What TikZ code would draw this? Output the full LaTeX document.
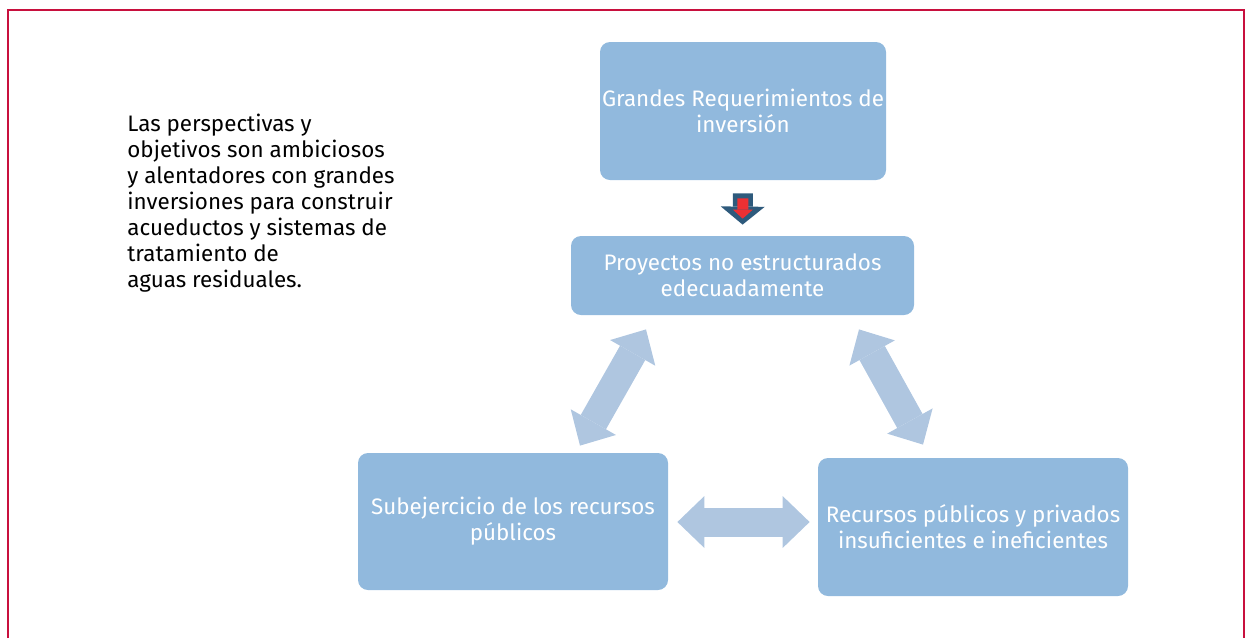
\documentclass[tikz,border=0pt]{standalone}
\usepackage{fontspec}
\setmainfont{Fira Sans}
\usetikzlibrary{arrows.meta}

\definecolor{colMarco}{HTML}{C8103E}
\definecolor{colCaja}{HTML}{91B9DD}
\definecolor{colFlecha}{HTML}{AFC6E0}
\definecolor{colOscuro}{HTML}{2E5A7C}
\definecolor{colRojo}{HTML}{EC3033}

\tikzset{
    caja/.style={fill=colCaja, rounded corners=5pt, text=white, align=center,
        font=\fontsize{11.2}{13}\selectfont, inner sep=0pt},
    doble/.style={colFlecha, line width=14.5pt,
        {Triangle[length=13.5pt,width=26pt,line width=0pt]}-{Triangle[length=13.5pt,width=26pt,line width=0pt]}},
}

\begin{document}
\begin{tikzpicture}[x=0.5pt,y=-0.5pt]
    \useasboundingbox (0,0) rectangle (1246,638);
    \draw[colMarco,line width=1.25pt] (8,638) -- (8,10) -- (1244,10) -- (1244,638);

    \node[anchor=north west,inner sep=0pt,align=left,font=\fontsize{11.2}{13}\selectfont]
        (perspectivas) at (127,114) {Las perspectivas y\\objetivos son ambiciosos\\y alentadores con grandes\\inversiones para construir\\acueductos y sistemas de\\tratamiento de\\aguas residuales.};

    \node[caja,minimum width=143pt,minimum height=69pt] (grandes) at (743,111)
        {Grandes Requerimientos de\\inversión};
    \node[caja,minimum width=171.5pt,minimum height=39.5pt] (proy) at (742.5,275.5)
        {Proyectos no estructurados\\edecuadamente};
    \node[caja,minimum width=155pt,minimum height=68.5pt] (sub) at (513,521.5)
        {Subejercicio de los recursos\\públicos};
    \node[caja,minimum width=155pt,minimum height=69pt] (recur) at (973,527)
        {Recursos públicos y privados\\insuficientes e ineficientes};

    % flecha hacia abajo
    \draw[colOscuro,line width=10pt,shorten <=6.5pt,shorten >=5.5pt,
        -{Triangle[length=9pt,width=22pt,line width=0pt]}] (grandes.south) -- (proy.north);
    \draw[colRojo,line width=5.5pt,shorten <=9pt,shorten >=8.5pt,
        -{Triangle[length=4.5pt,width=10pt,line width=0pt]}] (grandes.south) -- (proy.north);

    \coordinate (a1) at ([shift={(67,-7)}]sub.north);
    \coordinate (a2) at ([shift={(-96.5,14)}]proy.south);
    \coordinate (b1) at ([shift={(116.5,14)}]proy.south);
    \coordinate (b2) at ([shift={(-50,-13)}]recur.north);
    \coordinate (c1) at ([shift={(9,0.5)}]sub.east);
    \coordinate (c2) at ([shift={(-8,-5)}]recur.west);
    \foreach \p/\q in {a1/a2,b1/b2,c1/c2}
        \draw[doble] (\p) -- (\q);
\end{tikzpicture}
\end{document}
